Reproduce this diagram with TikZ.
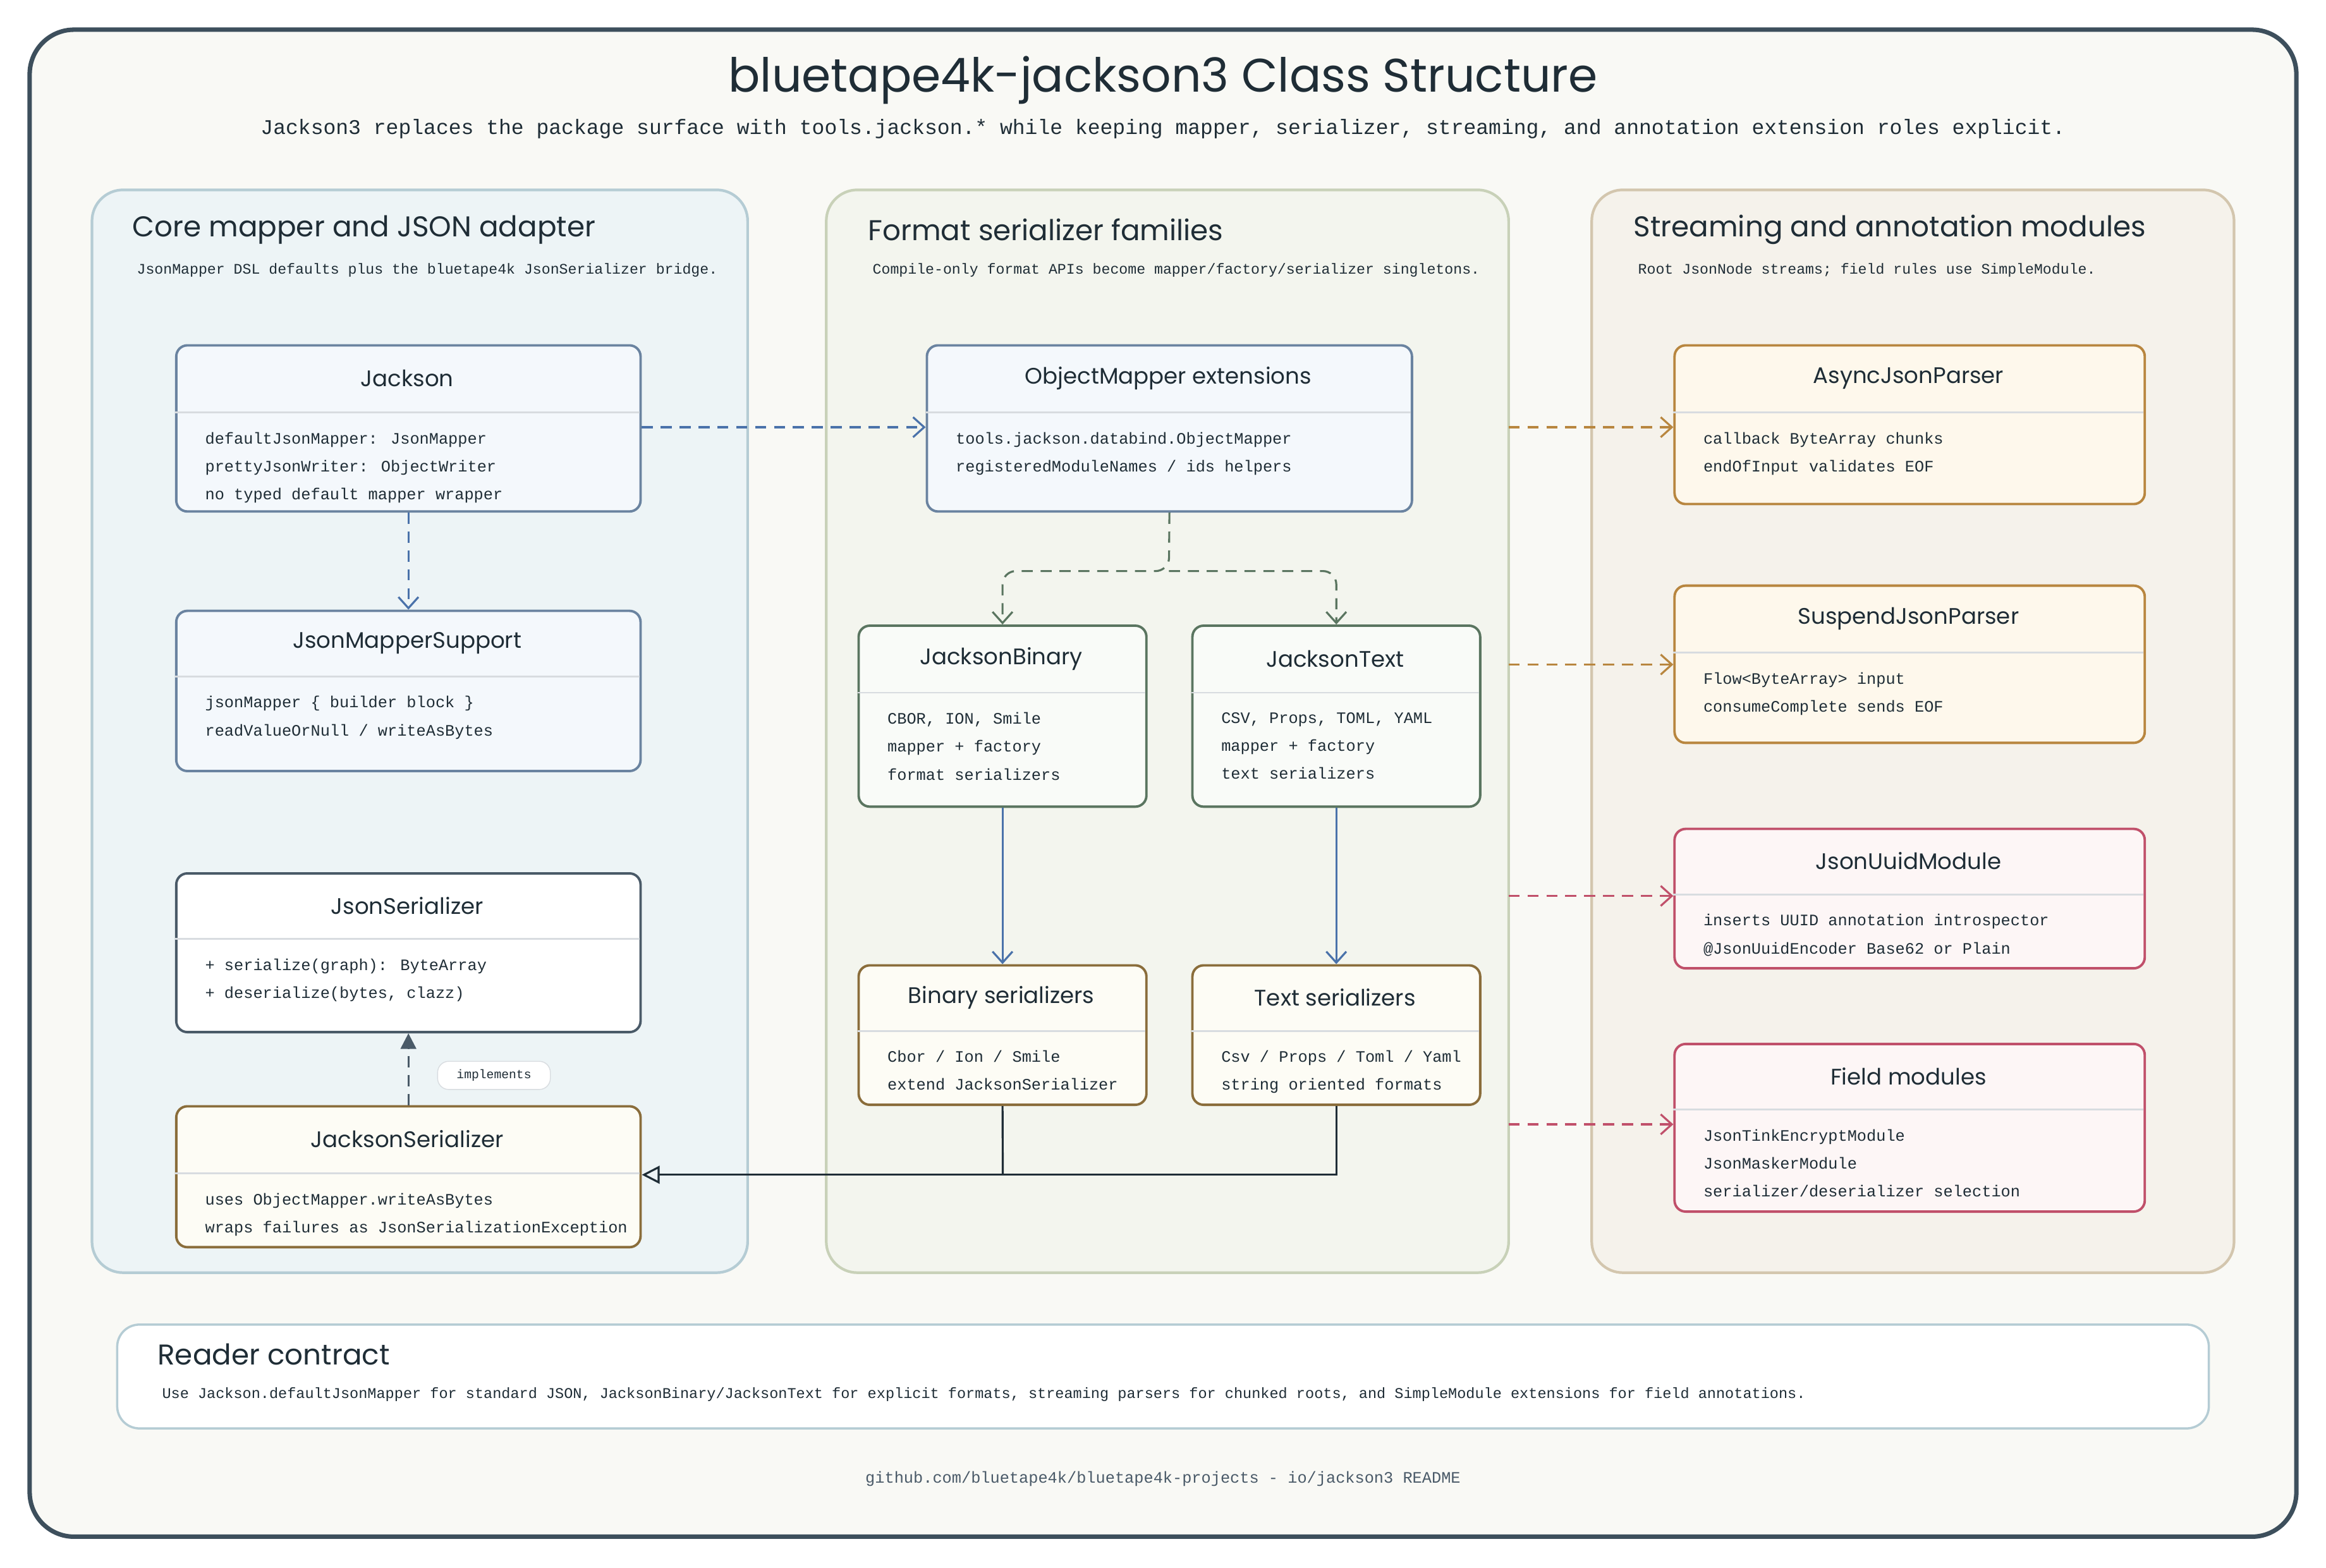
\documentclass[tikz,border=0pt]{standalone}
\usepackage{fontspec}
\setmainfont{Poppins}
\newfontfamily\mono{Liberation Mono}
\newfontfamily\head{Poppins}[Scale=0.92]
\usetikzlibrary{arrows.meta}
\definecolor{frame}{HTML}{3D4F5C}
\definecolor{bgc}{HTML}{F9F9F5}
\definecolor{ink}{HTML}{1F2D36}
\definecolor{p1f}{HTML}{EDF4F6}\definecolor{p1s}{HTML}{B5CCD4}
\definecolor{p2f}{HTML}{F3F5EE}\definecolor{p2s}{HTML}{C8D1B8}
\definecolor{p3f}{HTML}{F5F2EB}\definecolor{p3s}{HTML}{D3C6AE}
\definecolor{bluef}{HTML}{F4F8FC}\definecolor{blues}{HTML}{6A83A0}
\definecolor{greyS}{HTML}{4A5A68}
\definecolor{brownf}{HTML}{FDFCF5}\definecolor{browns}{HTML}{8A6D3B}
\definecolor{greenf}{HTML}{F9FBF8}\definecolor{greens}{HTML}{5A7560}
\definecolor{orf}{HTML}{FEF8EC}\definecolor{ors}{HTML}{B8863F}
\definecolor{redf}{HTML}{FDF6F6}\definecolor{reds}{HTML}{C0506A}
\definecolor{arrblue}{HTML}{4A72AA}
\definecolor{divc}{HTML}{D8DCE0}
\tikzset{
  panel/.style={rounded corners=14, line width=1.2pt},
  cls/.style={rectangle, rounded corners=5, line width=1.1pt, inner sep=0pt},
  divider/.style={divc, line width=0.8pt},
  boxtitle/.style={text=ink, font=\head\fontsize{11}{13}\selectfont},
  body/.style={text=ink, inner sep=0pt, align=left, font=\mono\fontsize{7.2}{12.6}\selectfont},
  dep/.style={dashed, dash pattern=on 5pt off 3.5pt, line width=0.9pt, -{Straight Barb[length=5pt,width=9pt]}},
  sol/.style={line width=0.9pt, -{Straight Barb[length=5pt,width=9pt]}},
}
\newcommand\classbox[9]{%
  \node[cls, #9, anchor=north west, minimum width={(#4-#2)*0.02347cm}, minimum height={(#5-#3)*0.02347cm}] (#1) at (#2,#3) {};
  \draw[divider] (#2,#6) -- (#4,#6);
  \node[boxtitle] at ({(#2+#4)/2},{(#3+#6)/2}) {#7};
  \node[body, anchor=north west] at (#2+20,#6+13) {#8};
}
\begin{document}
\begin{tikzpicture}[x=0.02347cm, y=-0.02347cm]
\useasboundingbox (0,0) rectangle (1568,1057);
\fill[white] (0,0) rectangle (1568,1057);
\draw[frame, fill=bgc, line width=2pt, rounded corners=20] (20,20) rectangle (1548,1036);
\node[text=ink, font=\head\fontsize{23}{26}\selectfont] (title) at (784,54) {bluetape4k-jackson3 Class Structure};
\node[text=ink, font=\mono\fontsize{9.4}{12}\selectfont] (sub) at (784,87) {Jackson3 replaces the package surface with tools.jackson.* while keeping mapper, serializer, streaming, and annotation extension roles explicit.};

% panels
\draw[panel, p1s, fill=p1f] (62,128) rectangle (504,858);
\draw[panel, p2s, fill=p2f] (557,128) rectangle (1017,858);
\draw[panel, p3s, fill=p3f] (1073,128) rectangle (1506,858);
\node[anchor=west, text=ink, font=\head\fontsize{14}{16}\selectfont] (t1) at (84,155) {Core mapper and JSON adapter};
\node[anchor=west, text=ink, font=\mono\fontsize{6.6}{8}\selectfont] (s1) at (87,182) {JsonMapper DSL defaults plus the bluetape4k JsonSerializer bridge.};
\node[anchor=west, text=ink, font=\head\fontsize{14}{16}\selectfont] (t2) at (580,155) {Format serializer families};
\node[anchor=west, text=ink, font=\mono\fontsize{6.6}{8}\selectfont] (s2) at (583,182) {Compile-only format APIs become mapper/factory/serializer singletons.};
\node[anchor=west, text=ink, font=\head\fontsize{14}{16}\selectfont] (t3) at (1096,155) {Streaming and annotation modules};
\node[anchor=west, text=ink, font=\mono\fontsize{6.6}{8}\selectfont] (s3) at (1099,182) {Root JsonNode streams; field rules use SimpleModule.};

% classes
\classbox{jackson}{118}{232}{431}{344}{278}{Jackson}{defaultJsonMapper: JsonMapper\\prettyJsonWriter: ObjectWriter\\no typed default mapper wrapper}{draw=blues, fill=bluef}
\classbox{jms}{118}{411}{431}{519}{456}{JsonMapperSupport}{jsonMapper \{ builder block \}\\readValueOrNull / writeAsBytes}{draw=blues, fill=bluef}
\classbox{jser}{118}{588}{431}{695}{633}{JsonSerializer}{+ serialize(graph): ByteArray\\+ deserialize(bytes, clazz)}{draw=greyS, fill=white}
\classbox{jackser}{118}{745}{431}{840}{791}{JacksonSerializer}{uses ObjectMapper.writeAsBytes\\wraps failures as JsonSerializationException}{draw=browns, fill=brownf}
\classbox{ome}{624}{232}{951}{344}{278}{ObjectMapper extensions}{tools.jackson.databind.ObjectMapper\\registeredModuleNames / ids helpers}{draw=blues, fill=bluef}
\classbox{jbin}{578}{421}{772}{543}{467}{JacksonBinary}{CBOR, ION, Smile\\mapper + factory\\format serializers}{draw=greens, fill=greenf}
\classbox{jtext}{803}{421}{997}{543}{467}{JacksonText}{CSV, Props, TOML, YAML\\mapper + factory\\text serializers}{draw=greens, fill=greenf}
\classbox{bser}{578}{650}{772}{744}{695}{Binary serializers}{Cbor / Ion / Smile\\extend JacksonSerializer}{draw=browns, fill=brownf}
\classbox{tser}{803}{650}{997}{744}{695}{Text serializers}{Csv / Props / Toml / Yaml\\string oriented formats}{draw=browns, fill=brownf}
\classbox{async}{1128}{232}{1445}{339}{278}{AsyncJsonParser}{callback ByteArray chunks\\endOfInput validates EOF}{draw=ors, fill=orf}
\classbox{susp}{1128}{394}{1445}{500}{440}{SuspendJsonParser}{Flow<ByteArray> input\\consumeComplete sends EOF}{draw=ors, fill=orf}
\classbox{uuid}{1128}{558}{1445}{652}{603}{JsonUuidModule}{inserts UUID annotation introspector\\@JsonUuidEncoder Base62 or Plain}{draw=reds, fill=redf}
\classbox{field}{1128}{703}{1445}{816}{748}{Field modules}{JsonTinkEncryptModule\\JsonMaskerModule\\serializer/deserializer selection}{draw=reds, fill=redf}

% connectors
\draw[dep, arrblue] (jackson.east |- 0,288) -- (ome.west |- 0,288);
\draw[dep, arrblue] (jackson.south) -- (jms.north);
\coordinate (split) at (788,385);
\draw[dep, greens, rounded corners=6] (ome.south) -- (split) -| (jbin.north);
\draw[dep, greens, rounded corners=6] (split) -| (jtext.north);
\draw[sol, arrblue] (jbin.south) -- (bser.north);
\draw[sol, arrblue] (jtext.south) -- (tser.north);
\coordinate (join) at (676,792);
\draw[line width=0.9pt, ink] (bser.south) -- (join);
\draw[line width=0.9pt, ink, -{Triangle[open, length=8pt, width=8pt]}] (tser.south) |- (join) -- (jackser.east |- join);
\draw[dash pattern=on 5pt off 3.5pt, line width=0.9pt, greyS, -{Triangle[length=7pt,width=7pt]}] (jackser.north) -- (jser.south);
\node[draw=divc, fill=white, rounded corners=5, minimum width={76*0.02347cm}, minimum height={19*0.02347cm}, inner sep=0pt, text=ink, font=\mono\fontsize{5.6}{7}\selectfont] (impl) at (333,725) {implements};

\coordinate (e1) at (1017,288); \coordinate (e2) at (1017,448);
\coordinate (e3) at (1017,604); \coordinate (e4) at (1017,758);
\draw[dep, ors] (e1) -- (async.west |- e1);
\draw[dep, ors] (e2) -- (susp.west |- e2);
\draw[dep, reds] (e3) -- (uuid.west |- e3);
\draw[dep, reds] (e4) -- (field.west |- e4);

% reader contract
\draw[p1s, fill=white, rounded corners=10, line width=1pt] (79,893) rectangle (1489,963);
\node[anchor=west, text=ink, font=\head\fontsize{14}{16}\selectfont] (rc) at (101,913) {Reader contract};
\node[anchor=west, text=ink, font=\mono\fontsize{6.7}{8}\selectfont] (rct) at (104,940) {Use Jackson.defaultJsonMapper for standard JSON, JacksonBinary/JacksonText for explicit formats, streaming parsers for chunked roots, and SimpleModule extensions for field annotations.};
\node[text=greyS, font=\mono\fontsize{7.2}{9}\selectfont] (foot) at (784,997) {github.com/bluetape4k/bluetape4k-projects - io/jackson3 README};
\end{tikzpicture}
\end{document}
